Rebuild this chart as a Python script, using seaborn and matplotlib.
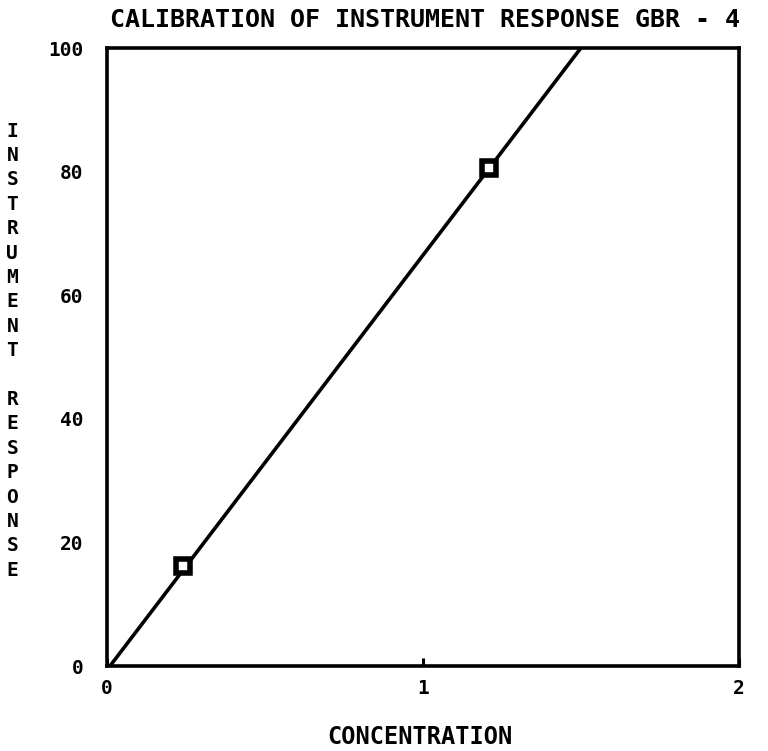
import matplotlib
matplotlib.use("Agg")
import matplotlib.pyplot as plt
import seaborn as sns
import pandas as pd

# datos
conc_pts = [0.24, 1.21]
resp_pts = [16.2, 80.6]
fit_x = [0.01, 1.50]
fit_y = [0.0, 100.0]
x_ticks = [0, 1, 2]
y_ticks = [0, 20, 40, 60, 80, 100]
titulo = "CALIBRATION OF INSTRUMENT RESPONSE GBR - 4"
etiqueta_x = "CONCENTRATION"
etiqueta_y = "INSTRUMENT RESPONSE"

sns.set_style("white")
plt.rcParams["font.family"] = ["DejaVu Sans Mono", "DejaVu Sans"]
plt.rcParams["font.weight"] = "bold"
plt.rcParams["text.color"] = "black"
plt.rcParams["xtick.color"] = "black"
plt.rcParams["ytick.color"] = "black"

df_pts = pd.DataFrame({"conc": conc_pts, "resp": resp_pts})
df_fit = pd.DataFrame({"conc": fit_x, "resp": fit_y})

fig = plt.figure(figsize=(7.68, 7.51), dpi=100)
ax = fig.add_axes([0.139, 0.113, 0.823, 0.823])

sns.lineplot(data=df_fit, x="conc", y="resp", ax=ax, color="black", linewidth=2.6)
ax.plot(df_pts["conc"], df_pts["resp"], linestyle="none", marker="s",
        markersize=10, markerfacecolor="white", markeredgecolor="black",
        markeredgewidth=4, zorder=5)

ax.set_xlim(0, 2)
ax.set_ylim(0, 100)
ax.set_xticks(x_ticks)
ax.set_yticks(y_ticks)
ax.set_xticklabels([str(v) for v in x_ticks], fontsize=14, fontweight="bold")
ax.set_yticklabels([str(v) for v in y_ticks], fontsize=14, fontweight="bold")
ax.tick_params(axis="x", bottom=True, direction="in", length=6, width=2.2, pad=9)
ax.tick_params(axis="y", left=True, direction="in", length=0, pad=17)
ax.set_xlabel("")
ax.set_ylabel("")
for s in ax.spines.values():
    s.set_visible(True)
    s.set_linewidth(2.6)
    s.set_color("black")

fig.text(0.553, 0.973, titulo, ha="center", va="center", fontsize=18, fontweight="bold")
fig.text(0.547, 0.019, etiqueta_x, ha="center", va="center", fontsize=17, fontweight="bold")
fig.text(0.016, 0.533, "\n".join(etiqueta_y), ha="center", va="center",
         fontsize=14, fontweight="bold", linespacing=1.36)

fig.savefig("out.png", dpi=100)
